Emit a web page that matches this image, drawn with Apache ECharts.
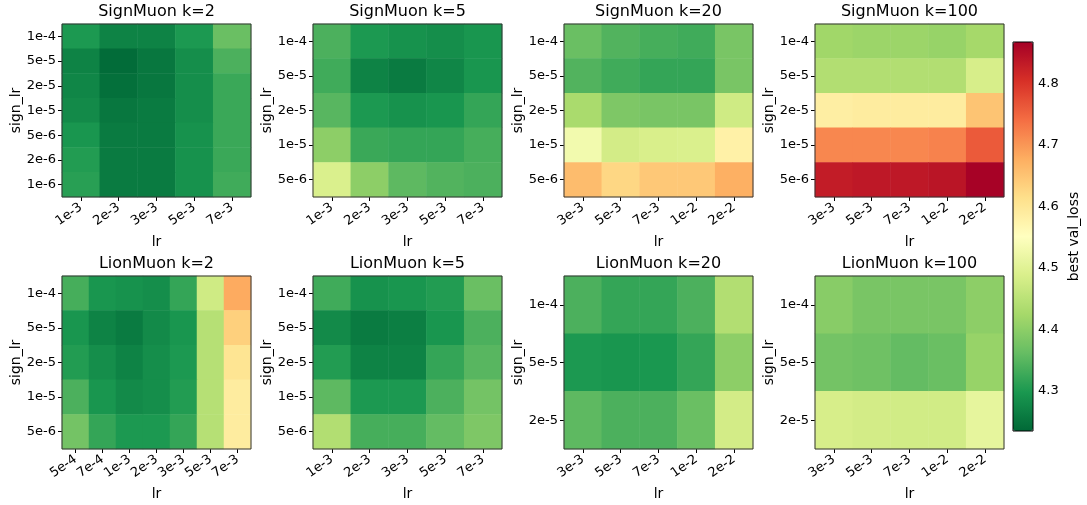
<!DOCTYPE html>
<html>
<head>
<meta charset="utf-8">
<script src="https://cdn.jsdelivr.net/npm/echarts@6/dist/echarts.min.js"></script>
<style>
  html, body { margin: 0; padding: 0; background: #fff; }
  #chart { width: 1087px; height: 505px; }
</style>
</head>
<body>
<div id="chart"></div>
<script>
// axis categories
var signLr7 = ['1e-4', '5e-5', '2e-5', '1e-5', '5e-6', '2e-6', '1e-6']
var signLr5 = ['1e-4', '5e-5', '2e-5', '1e-5', '5e-6']
var signLr3 = ['1e-4', '5e-5', '2e-5']
var lrSmall = ['1e-3', '2e-3', '3e-3', '5e-3', '7e-3']
var lrLarge = ['3e-3', '5e-3', '7e-3', '1e-2', '2e-2']
var lrLion2 = ['5e-4', '7e-4', '1e-3', '2e-3', '3e-3', '5e-3', '7e-3']

// best val_loss, rows = sign_lr (top to bottom), cols = lr
var signK2 = [
  [4.300, 4.270, 4.270, 4.300, 4.365],
  [4.270, 4.240, 4.255, 4.285, 4.340],
  [4.275, 4.245, 4.255, 4.285, 4.325],
  [4.280, 4.255, 4.260, 4.285, 4.325],
  [4.295, 4.260, 4.260, 4.290, 4.325],
  [4.305, 4.260, 4.260, 4.290, 4.325],
  [4.310, 4.260, 4.260, 4.290, 4.330]
]
var signK5 = [
  [4.340, 4.300, 4.290, 4.285, 4.295],
  [4.330, 4.270, 4.260, 4.275, 4.295],
  [4.350, 4.300, 4.290, 4.295, 4.320],
  [4.400, 4.325, 4.320, 4.320, 4.335],
  [4.490, 4.400, 4.355, 4.345, 4.340]
]
var signK20 = [
  [4.365, 4.345, 4.335, 4.330, 4.380],
  [4.345, 4.330, 4.320, 4.320, 4.380],
  [4.430, 4.385, 4.380, 4.380, 4.475],
  [4.530, 4.480, 4.488, 4.490, 4.580],
  [4.660, 4.625, 4.645, 4.645, 4.675]
]
var signK100 = [
  [4.420, 4.415, 4.415, 4.410, 4.425],
  [4.440, 4.440, 4.440, 4.440, 4.485],
  [4.585, 4.590, 4.590, 4.590, 4.650],
  [4.715, 4.715, 4.715, 4.720, 4.760],
  [4.830, 4.835, 4.835, 4.840, 4.865]
]
var lionK2 = [
  [4.335, 4.295, 4.290, 4.285, 4.320, 4.475, 4.680],
  [4.295, 4.270, 4.260, 4.280, 4.295, 4.445, 4.635],
  [4.305, 4.285, 4.270, 4.285, 4.300, 4.445, 4.605],
  [4.340, 4.295, 4.280, 4.285, 4.305, 4.445, 4.590],
  [4.375, 4.320, 4.300, 4.300, 4.320, 4.445, 4.590]
]
var lionK5 = [
  [4.330, 4.290, 4.295, 4.305, 4.365],
  [4.280, 4.260, 4.265, 4.295, 4.340],
  [4.305, 4.270, 4.270, 4.320, 4.350],
  [4.355, 4.300, 4.300, 4.340, 4.375],
  [4.440, 4.335, 4.335, 4.360, 4.385]
]
var lionK20 = [
  [4.340, 4.320, 4.320, 4.340, 4.440],
  [4.300, 4.295, 4.298, 4.320, 4.400],
  [4.355, 4.340, 4.340, 4.365, 4.480]
]
var lionK100 = [
  [4.395, 4.380, 4.380, 4.380, 4.400],
  [4.375, 4.370, 4.360, 4.365, 4.410],
  [4.485, 4.480, 4.478, 4.478, 4.510]
]

var colorMin = 4.235
var colorMax = 4.867
var colorTicks = [4.3, 4.4, 4.5, 4.6, 4.7, 4.8]

var panels = [
  { title: 'SignMuon k=2', lr: lrSmall, sign: signLr7, values: signK2 },
  { title: 'SignMuon k=5', lr: lrSmall, sign: signLr5, values: signK5 },
  { title: 'SignMuon k=20', lr: lrLarge, sign: signLr5, values: signK20 },
  { title: 'SignMuon k=100', lr: lrLarge, sign: signLr5, values: signK100 },
  { title: 'LionMuon k=2', lr: lrLion2, sign: signLr5, values: lionK2 },
  { title: 'LionMuon k=5', lr: lrSmall, sign: signLr5, values: lionK5 },
  { title: 'LionMuon k=20', lr: lrLarge, sign: signLr3, values: lionK20 },
  { title: 'LionMuon k=100', lr: lrLarge, sign: signLr3, values: lionK100 }
]

// RdYlGn reversed
var rdYlGnR = ['#006837', '#1a9850', '#66bd63', '#a6d96a', '#d9ef8b', '#ffffbf',
  '#fee08b', '#fdae61', '#f46d43', '#d73027', '#a50026']

var font = 'DejaVu Sans'
var lefts = [62, 313, 564, 815]
var tops = [24, 276]
var panelW = 189
var panelH = 173

var grids = [], xAxes = [], yAxes = [], series = [], titles = []

panels.forEach(function (p, i) {
  var left = lefts[i % 4]
  var top = tops[Math.floor(i / 4)]
  grids.push({ left: left, top: top, width: panelW, height: panelH, show: true,
    borderColor: '#333', borderWidth: 1, backgroundColor: 'transparent', z: 10 })
  titles.push({ text: p.title, left: left + panelW / 2, top: top - 20, textAlign: 'center', padding: 0,
    textStyle: { fontFamily: font, fontSize: 16, fontWeight: 'normal', color: '#000' } })
  xAxes.push({
    type: 'category', gridIndex: i, data: p.lr,
    axisLine: { show: false },
    axisTick: { show: true, alignWithLabel: true, length: 4, lineStyle: { color: '#000' } },
    axisLabel: { rotate: 35, interval: 0, fontFamily: font, fontSize: 13, color: '#000', margin: 9 },
    splitLine: { show: false },
    name: 'lr', nameLocation: 'middle', nameGap: 38,
    nameTextStyle: { fontFamily: font, fontSize: 14, color: '#000' }
  })
  yAxes.push({
    type: 'category', gridIndex: i, data: p.sign, inverse: true,
    axisLine: { show: false },
    axisTick: { show: true, alignWithLabel: true, length: 4, lineStyle: { color: '#000' } },
    axisLabel: { interval: 0, fontFamily: font, fontSize: 13, color: '#000', margin: 6 },
    splitLine: { show: false },
    name: 'sign_lr', nameLocation: 'middle', nameGap: 37,
    nameTextStyle: { fontFamily: font, fontSize: 14, color: '#000' }
  })
  var data = []
  p.values.forEach(function (row, r) {
    row.forEach(function (v, c) { data.push([c, r, v]) })
  })
  series.push({ type: 'heatmap', xAxisIndex: i, yAxisIndex: i, data: data,
    emphasis: { disabled: true }, progressive: 0 })
})

// colorbar frame + ticks
grids.push({ left: 1013, top: 42, width: 20, height: 389, show: true,
  borderColor: '#000', borderWidth: 1, backgroundColor: 'transparent', z: 10 })
xAxes.push({ type: 'value', gridIndex: 8, show: false })
yAxes.push({
  type: 'value', gridIndex: 8, position: 'right', min: colorMin, max: colorMax,
  axisLine: { show: false },
  axisTick: { show: true, length: 4, lineStyle: { color: '#000' }, customValues: colorTicks },
  axisLabel: { fontFamily: font, fontSize: 13, color: '#000', margin: 5, customValues: colorTicks,
    formatter: function (v) { return v.toFixed(1) } },
  splitLine: { show: false },
  name: 'best val_loss', nameLocation: 'middle', nameRotate: 90, nameGap: 34,
  nameTextStyle: { fontFamily: font, fontSize: 14, color: '#000' }
})

var chart = echarts.init(document.getElementById('chart'))
chart.setOption({
  animation: false,
  backgroundColor: '#fff',
  title: titles,
  grid: grids,
  xAxis: xAxes,
  yAxis: yAxes,
  visualMap: {
    type: 'continuous', min: colorMin, max: colorMax, seriesIndex: [0, 1, 2, 3, 4, 5, 6, 7],
    show: true, calculable: false, orient: 'vertical', left: 1013, top: 42,
    itemWidth: 20, itemHeight: 389, padding: 0, text: null, showLabel: false,
    inRange: { color: rdYlGnR }
  },
  series: series
})
</script>
</body>
</html>
